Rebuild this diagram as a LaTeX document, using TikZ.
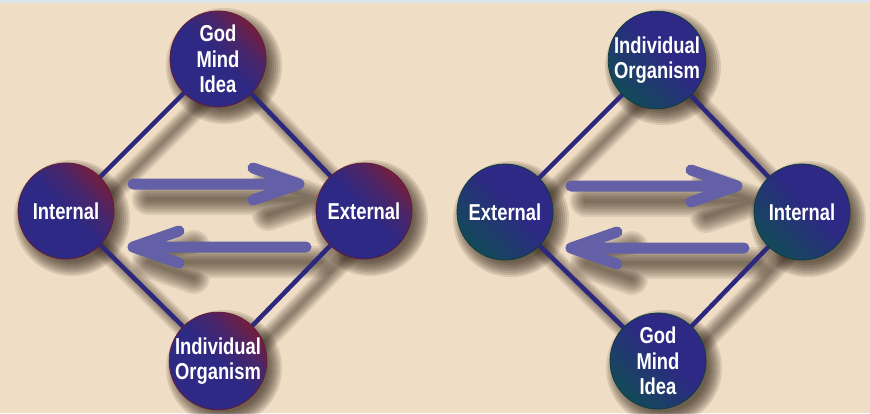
\documentclass[tikz,border=0pt]{standalone}
\usepackage{fontspec}
\newfontfamily\lblfont[FakeStretch=0.8]{Liberation Sans}
\usetikzlibrary{calc}
\definecolor{bg}{RGB}{240,221,197}
\definecolor{strip}{RGB}{221,228,236}
\definecolor{cnavy}{RGB}{45,41,132}
\definecolor{cmaroon}{RGB}{116,30,62}
\definecolor{cmidl}{RGB}{75,37,104}
\definecolor{cteal}{RGB}{18,74,88}
\definecolor{cmidr}{RGB}{32,58,110}
\definecolor{rimL}{RGB}{100,26,50}
\definecolor{rimR}{RGB}{16,60,62}
\definecolor{linec}{RGB}{43,40,125}
\definecolor{arrowc}{RGB}{99,96,168}
\definecolor{shadowc}{RGB}{50,36,24}
\pgfdeclareverticalshading{lshade}{100bp}{color(0bp)=(cnavy); color(25bp)=(cnavy); color(50bp)=(cnavy); color(64bp)=(cmidl); color(75bp)=(cmaroon); color(100bp)=(cmaroon)}
\pgfdeclareverticalshading{rshade}{100bp}{color(0bp)=(cteal); color(25bp)=(cteal); color(40bp)=(cmidr); color(55bp)=(cnavy); color(100bp)=(cnavy)}
\pgfdeclarelayer{shadow}
\pgfdeclarelayer{lines}
\pgfsetlayers{shadow,lines,main}
\tikzset{
  circbase/.style={circle, minimum size=96pt, inner sep=0pt, align=center, text=white,
    font=\lblfont\bfseries\fontsize{23}{25.5}\selectfont, line width=0.8pt, shade, shading angle=-45},
  lcirc/.style={circbase, shading=lshade, draw=rimL},
  rcirc/.style={circbase, shading=rshade, draw=rimR},
  conn/.style={draw=linec, line width=4.5pt},
  arr/.style={draw=arrowc, line width=11pt, line cap=round, line join=round},
}
\newcommand\blurarrow[3]{%
  \begin{pgfonlayer}{shadow}
  \foreach \w in {4,8,...,32}{
    \draw[shadowc, opacity=0.1, line width=\w pt, line cap=round, line join=round]
      ($(#1)+(15,15)$) -- ($(#2)+(15,15)$) ++(#3,-16) -- ($(#2)+(15,15)$) -- ++(#3,16);
  }
  \end{pgfonlayer}
  \draw[arr] (#1) -- (#2) ++(#3,-16) -- (#2) -- ++(#3,16);
}
\newcommand\blurline[2]{%
  \begin{pgfonlayer}{shadow}
  \foreach \w in {3,6,...,21}{
    \draw[shadowc, opacity=0.09, line width=\w pt, line cap=round]
      ($(#1)+(14,14)$) -- ($(#2)+(14,14)$);
  }
  \end{pgfonlayer}
  \begin{pgfonlayer}{lines}
  \draw[conn] (#1) -- (#2);
  \end{pgfonlayer}
}
\newcommand\circshadow[1]{%
  \begin{pgfonlayer}{shadow}
  \foreach \r in {44,46,...,58}{
    \fill[shadowc, opacity=0.13] ($(#1)+(6,7)$) circle (\r pt);
  }
  \end{pgfonlayer}
}
\begin{document}
\begin{tikzpicture}[x=1pt,y=-1pt]
\useasboundingbox (0,0) rectangle (870,413);
\begin{pgfonlayer}{shadow}
\fill[bg] (0,0) rectangle (870,413);
\fill[strip] (0,0) rectangle (870,3);
\end{pgfonlayer}
% left diagram
\node[lcirc] (lgod) at (218,59) {God\\Mind\\Idea};
\node[lcirc] (lint) at (66,211) {Internal};
\node[lcirc] (lext) at (364,211) {External};
\node[lcirc] (lind) at (218,361) {Individual\\Organism};
% right diagram
\node[rcirc] (rind) at (657,60) {Individual\\Organism};
\node[rcirc] (rext) at (505,212) {External};
\node[rcirc] (rint) at (802,212) {Internal};
\node[rcirc] (rgod) at (658,361) {God\\Mind\\Idea};
\foreach \n in {lgod,lint,lext,lind,rind,rext,rint,rgod}{\circshadow{\n}}
\blurline{lgod}{lint}
\blurline{lgod}{lext}
\blurline{lint}{lind}
\blurline{lext}{lind}
\blurline{rind}{rext}
\blurline{rind}{rint}
\blurline{rext}{rgod}
\blurline{rint}{rgod}
% arrows
\coordinate (la1s) at (133,184);
\coordinate (la1e) at (299,184);
\coordinate (la2s) at (306,247);
\coordinate (la2e) at (133,247);
\coordinate (ra1s) at (571,186);
\coordinate (ra1e) at (737,186);
\coordinate (ra2s) at (744,248);
\coordinate (ra2e) at (571,248);
\blurarrow{la1s}{la1e}{-46}
\blurarrow{la2s}{la2e}{46}
\blurarrow{ra1s}{ra1e}{-46}
\blurarrow{ra2s}{ra2e}{46}
\end{tikzpicture}
\end{document}
